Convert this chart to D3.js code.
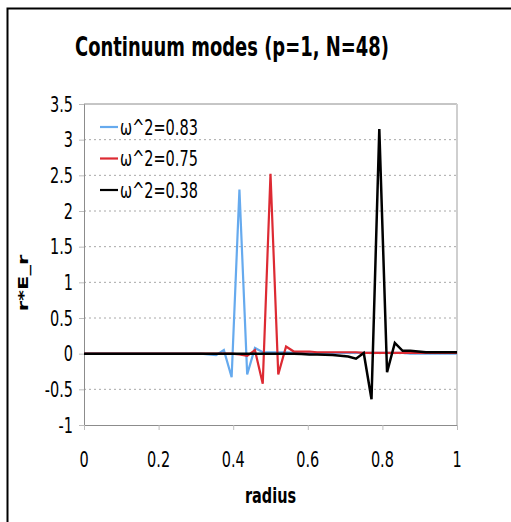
<!DOCTYPE html>
<html>
<head>
<meta charset="utf-8">
<script src="https://cdn.jsdelivr.net/npm/d3@7"></script>
<style>
  body { margin: 0; background: #fff; }
  svg { display: block; }
  text { font-family: "DejaVu Sans", Verdana, sans-serif; fill: #000; }
</style>
</head>
<body>
<div id="chart"></div>
<script>
// radius grid (N=48 -> 49 points)
const radius = [0, 0.0208, 0.0417, 0.0625, 0.0833, 0.1042, 0.125, 0.1458, 0.1667, 0.1875,
  0.2083, 0.2292, 0.25, 0.2708, 0.2917, 0.3125, 0.3333, 0.3542, 0.375, 0.3958,
  0.4167, 0.4375, 0.4583, 0.4792, 0.5, 0.5208, 0.5417, 0.5625, 0.5833, 0.6042,
  0.625, 0.6458, 0.6667, 0.6875, 0.7083, 0.7292, 0.75, 0.7708, 0.7917, 0.8125,
  0.8333, 0.8542, 0.875, 0.8958, 0.9167, 0.9375, 0.9583, 0.9792, 1];

const mode083 = [0, 0, 0, 0, 0, 0, 0, 0, 0, 0,
  0, 0, 0, 0, 0, 0, -0.01, -0.02, 0.05, -0.33,
  2.3, -0.29, 0.08, 0.02, 0.02, 0.02, 0.02, 0.01, 0.01, 0.01,
  0.01, 0.01, 0.01, 0.01, 0.01, 0.01, 0.01, 0.01, 0.01, 0.01,
  0.01, 0.01, 0, 0, 0, 0, 0, 0, 0];

const mode075 = [0, 0, 0, 0, 0, 0, 0, 0, 0, 0,
  0, 0, 0, 0, 0, 0, 0, 0, 0, 0,
  -0.01, -0.03, 0.05, -0.42, 2.52, -0.29, 0.1, 0.03, 0.03, 0.03,
  0.02, 0.02, 0.02, 0.02, 0.02, 0.02, 0.01, 0.01, 0.01, 0.01,
  0.01, 0.01, 0.01, 0.01, 0.01, 0.01, 0.01, 0.01, 0.01];

const mode038 = [0, 0, 0, 0, 0, 0, 0, 0, 0, 0,
  0, 0, 0, 0, 0, 0, 0, 0, 0, 0,
  0, 0, 0, 0, 0, 0, 0, 0, -0.005, -0.01,
  -0.01, -0.015, -0.02, -0.03, -0.04, -0.07, 0.01, -0.64, 3.15, -0.26,
  0.15, 0.04, 0.04, 0.03, 0.02, 0.02, 0.02, 0.02, 0.02];

const seriesNames = ["ω^2=0.83", "ω^2=0.75", "ω^2=0.38"];
const seriesColors = ["#66aaee", "#dd2a33", "#000000"];
const seriesValues = [mode083, mode075, mode038];

const xTicks = [0, 0.2, 0.4, 0.6, 0.8, 1];
const yTicks = [-1, -0.5, 0, 0.5, 1, 1.5, 2, 2.5, 3, 3.5];

const W = 511, H = 522;
const plot = { left: 84, right: 457, top: 104, bottom: 425 };
const SX = 0.69; // horizontal squeeze of the lettering

const svg = d3.select("#chart").append("svg")
  .attr("width", W).attr("height", H);

svg.append("rect").attr("width", W).attr("height", H).attr("fill", "#fff");

// outer frame (cut by the right and bottom edges)
svg.append("rect")
  .attr("x", 7.5).attr("y", 8.5)
  .attr("width", 520).attr("height", 530)
  .attr("fill", "none").attr("stroke", "#000").attr("stroke-width", 2);

const x = d3.scaleLinear().domain([0, 1]).range([plot.left, plot.right]);
const y = d3.scaleLinear().domain([-1, 3.5]).range([plot.bottom, plot.top]);

// squeezed text helper (rotated text is squeezed across its height)
function label(g, tx, ty, str, opts) {
  const sc = opts.rotate ? `rotate(-90) scale(1,${SX})` : `scale(${SX},1)`;
  return g.append("text")
    .attr("transform", `translate(${tx},${ty}) ${sc}`)
    .attr("text-anchor", opts.anchor || "middle")
    .style("font-size", opts.size + "px")
    .style("font-weight", opts.bold ? "bold" : "normal")
    .text(str);
}

// gridlines
svg.append("g")
  .selectAll("line")
  .data(yTicks.filter(d => d > -1 && d < 3.5))
  .enter().append("line")
  .attr("x1", plot.left).attr("x2", plot.right)
  .attr("y1", d => y(d)).attr("y2", d => y(d))
  .attr("stroke", "#a8a8a8").attr("stroke-width", 1)
  .attr("stroke-dasharray", "2,3");

// plot frame: top and right light, left and bottom axis
svg.append("line")
  .attr("x1", plot.left).attr("x2", plot.right)
  .attr("y1", plot.top).attr("y2", plot.top)
  .attr("stroke", "#8c8c8c");
svg.append("line")
  .attr("x1", plot.right).attr("x2", plot.right)
  .attr("y1", plot.top).attr("y2", plot.bottom)
  .attr("stroke", "#cfcfcf").attr("stroke-width", 2);

const yAxis = svg.append("g")
  .attr("transform", `translate(${plot.left},0)`)
  .call(d3.axisLeft(y).tickValues(yTicks).tickSize(5).tickFormat(""));
const xAxis = svg.append("g")
  .attr("transform", `translate(0,${plot.bottom})`)
  .call(d3.axisBottom(x).tickValues(xTicks).tickSize(5).tickFormat(""));
[yAxis, xAxis].forEach(a => {
  a.select(".domain").attr("stroke", "#8c8c8c");
  a.selectAll(".tick line").attr("stroke", "#bdbdbd");
});

// tick labels
const fmt = d => String(d);
yTicks.forEach(d => label(svg, 73, y(d) + 7.5, fmt(d), { size: 21, anchor: "end" }));
xTicks.forEach(d => label(svg, x(d), 467, fmt(d), { size: 21 }));

// axis titles
label(svg, (plot.left + plot.right) / 2, 503, "radius", { size: 21, bold: true });
label(svg, 28, 283, "r*E_r", { size: 21, bold: true, rotate: true });

// title
label(svg, 232, 56, "Continuum modes (p=1, N=48)", { size: 26, bold: true });

// series
const line = d3.line()
  .x((d, i) => x(radius[i]))
  .y(d => y(d));

svg.append("g")
  .selectAll("path")
  .data(seriesValues)
  .enter().append("path")
  .attr("d", d => line(d))
  .attr("fill", "none")
  .attr("stroke", (d, i) => seriesColors[i])
  .attr("stroke-width", (d, i) => i === 2 ? 2.5 : 2.2)
  .attr("stroke-linejoin", "miter");

// legend
const legend = svg.append("g");
seriesNames.forEach((name, i) => {
  const ly = 127 + i * 31.5;
  legend.append("line")
    .attr("x1", 100).attr("x2", 118)
    .attr("y1", ly).attr("y2", ly)
    .attr("stroke", seriesColors[i]).attr("stroke-width", 2.2);
  label(legend, 120, ly + 7.5, name, { size: 21, anchor: "start" });
});
</script>
</body>
</html>
